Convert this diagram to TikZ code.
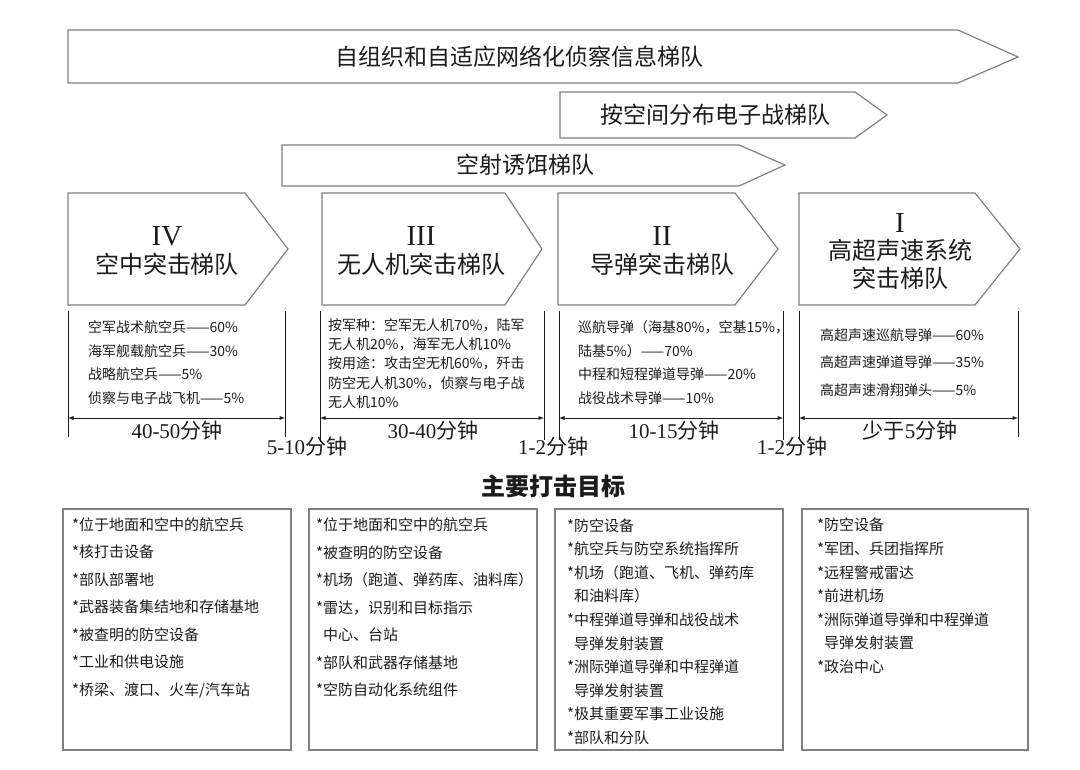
\documentclass[tikz,border=0pt]{standalone}
\usepackage{fontspec}
\setmainfont{Noto Sans CJK SC}
\newfontfamily\numfont{Liberation Serif}
\usepackage{tikz}
\usetikzlibrary{arrows}
\definecolor{edgegray}{RGB}{128,128,128}
\definecolor{inkblack}{RGB}{28,28,28}
\tikzstyle{echelon} = [draw=edgegray, line width=1.2pt, fill=white]
\tikzstyle{targetbox} = [draw=edgegray, line width=1.6pt]
\tikzstyle{extline} = [draw=inkblack, line width=0.9pt]
\tikzstyle{dimarrow} = [draw=inkblack, line width=0.9pt, latex-latex]
\tikzstyle{bandtext} = [text=inkblack, font=\fontsize{23}{26}\selectfont]
\tikzstyle{headtext} = [text=inkblack, align=center, font=\fontsize{24}{27.5}\selectfont]
\tikzstyle{shares} = [text=inkblack, anchor=west, align=left, inner sep=0pt]
\tikzstyle{timetext} = [text=inkblack, font=\fontsize{21}{23}\selectfont]
\tikzstyle{targets} = [text=inkblack, anchor=west, align=left, inner sep=0pt]

\begin{document}
\begin{tikzpicture}[x=1pt, y=-1pt]
    \useasboundingbox (0,0) rectangle (1080,770);
    % bands across all echelons
    \draw[echelon] (68,30) -- (958,30) -- (1018,57) -- (958,83) -- (68,83) -- cycle;
    \node[bandtext] (recon) at (519,57) {自组织和自适应网络化侦察信息梯队};
    \draw[echelon] (560,92) -- (855,92) -- (887,115) -- (855,138) -- (560,138) -- cycle;
    \node[bandtext] (ewar) at (715,115) {按空间分布电子战梯队};
    \draw[echelon] (282,145) -- (739,145) -- (785,165) -- (739,186) -- (282,186) -- cycle;
    \node[bandtext] (decoy) at (525,165) {空射诱饵梯队};

    % strike echelons
    \draw[echelon] (68,193) -- (245,193) -- (288,249) -- (245,305) -- (68,305) -- cycle;
    \node[headtext] (ech4) at (167,251) {{\numfont\fontsize{29}{27.5}\selectfont IV}\\空中突击梯队};
    \draw[echelon] (322,193) -- (505,193) -- (542,249) -- (505,305) -- (322,305) -- cycle;
    \node[headtext] (ech3) at (421,251) {{\numfont\fontsize{29}{27.5}\selectfont III}\\无人机突击梯队};
    \draw[echelon] (558,193) -- (735,193) -- (778,249) -- (735,305) -- (558,305) -- cycle;
    \node[headtext] (ech2) at (662,251) {{\numfont\fontsize{29}{27.5}\selectfont II}\\导弹突击梯队};
    \draw[echelon] (799,193) -- (975,193) -- (1020,249) -- (975,305) -- (799,305) -- cycle;
    \node[headtext] (ech1) at (900,251) {{\numfont\fontsize{29}{27}\selectfont I}\\高超声速系统\\突击梯队};

    % shares of forces
    \node[shares, font=\fontsize{14}{23.7}\selectfont] (lst4) at (88,362.5)
        {空军战术航空兵——60\%\\海军舰载航空兵——30\%\\战略航空兵——5\%\\侦察与电子战飞机——5\%};
    \node[shares, font=\fontsize{14}{19.3}\selectfont] (lst3) at (328,363.5)
        {按军种：空军无人机70\%，陆军\\无人机20\%，海军无人机10\%\\按用途：攻击空无机60\%，歼击\\防空无人机30\%，侦察与电子战\\无人机10\%};
    \node[shares, font=\fontsize{14}{23.7}\selectfont] (lst2) at (578,362.5)
        {巡航导弹（海基80\%，空基15\%，\\陆基5\%）——70\%\\中程和短程弹道导弹——20\%\\战役战术导弹——10\%};
    \node[shares, font=\fontsize{14}{27.5}\selectfont] (lst1) at (820,362.5)
        {高超声速巡航导弹——60\%\\高超声速弹道导弹——35\%\\高超声速滑翔弹头——5\%};

    % time spans
    \coordinate (t4a) at (68,418);  \coordinate (t4b) at (285,418);
    \coordinate (t3a) at (320,418); \coordinate (t3b) at (544,418);
    \coordinate (t2a) at (559,418); \coordinate (t2b) at (783,418);
    \coordinate (t1a) at (799,418); \coordinate (t1b) at (1018,418);
    \draw[extline] (68,311) -- (68,437);
    \draw[extline] (285,311) -- (285,437);
    \draw[extline] (320,311) -- (320,442);
    \draw[extline] (544,311) -- (544,440);
    \draw[extline] (559,311) -- (559,440);
    \draw[extline] (783,311) -- (783,440);
    \draw[extline] (799,311) -- (799,440);
    \draw[extline] (1018,311) -- (1018,437);
    \draw[dimarrow] (t4a) -- (t4b);
    \draw[dimarrow] (t3a) -- (t3b);
    \draw[dimarrow] (t2a) -- (t2b);
    \draw[dimarrow] (t1a) -- (t1b);
    \node[timetext] (span4) at (177,431) {{\numfont 40-50}分钟};
    \node[timetext] (span3) at (433,431) {{\numfont 30-40}分钟};
    \node[timetext] (span2) at (674,431) {{\numfont 10-15}分钟};
    \node[timetext] (span1) at (910,431) {少于{\numfont 5}分钟};
    \node[timetext] (gap43) at (307,447) {{\numfont 5-10}分钟};
    \node[timetext] (gap32) at (553,447) {{\numfont 1-2}分钟};
    \node[timetext] (gap21) at (792,447) {{\numfont 1-2}分钟};

    % main targets
    \node[text=inkblack, font=\fontsize{24}{26}\selectfont\bfseries] (goal) at (553,486) {主要打击目标};
    \draw[targetbox] (63,509) rectangle (291,750);
    \draw[targetbox] (309,509) rectangle (537,750);
    \draw[targetbox] (555,509) rectangle (783,750);
    \draw[targetbox] (802,509) rectangle (1028,750);
    \node[targets, font=\fontsize{15}{27.5}\selectfont] (goal4) at (72,607.5)
        {*位于地面和空中的航空兵\\*核打击设备\\*部队部署地\\*武器装备集结地和存储基地\\*被查明的防空设备\\*工业和供电设施\\*桥梁、渡口、火车/汽车站};
    \node[targets, font=\fontsize{15}{27.5}\selectfont] (goal3) at (316,607.5)
        {*位于地面和空中的航空兵\\*被查明的防空设备\\*机场（跑道、弹药库、油料库）\\*雷达，识别和目标指示\\\hphantom{*}中心、台站\\*部队和武器存储基地\\*空防自动化系统组件};
    \node[targets, font=\fontsize{15}{23.6}\selectfont] (goal2) at (567,631.5)
        {*防空设备\\*航空兵与防空系统指挥所\\*机场（跑道、飞机、弹药库\\\hphantom{*}和油料库）\\*中程弹道导弹和战役战术\\\hphantom{*}导弹发射装置\\*洲际弹道导弹和中程弹道\\\hphantom{*}导弹发射装置\\*极其重要军事工业设施\\*部队和分队};
    \node[targets, font=\fontsize{15}{23.6}\selectfont] (goal1) at (817,596)
        {*防空设备\\*军团、兵团指挥所\\*远程警戒雷达\\*前进机场\\*洲际弹道导弹和中程弹道\\\hphantom{*}导弹发射装置\\*政治中心};
\end{tikzpicture}
\end{document}
